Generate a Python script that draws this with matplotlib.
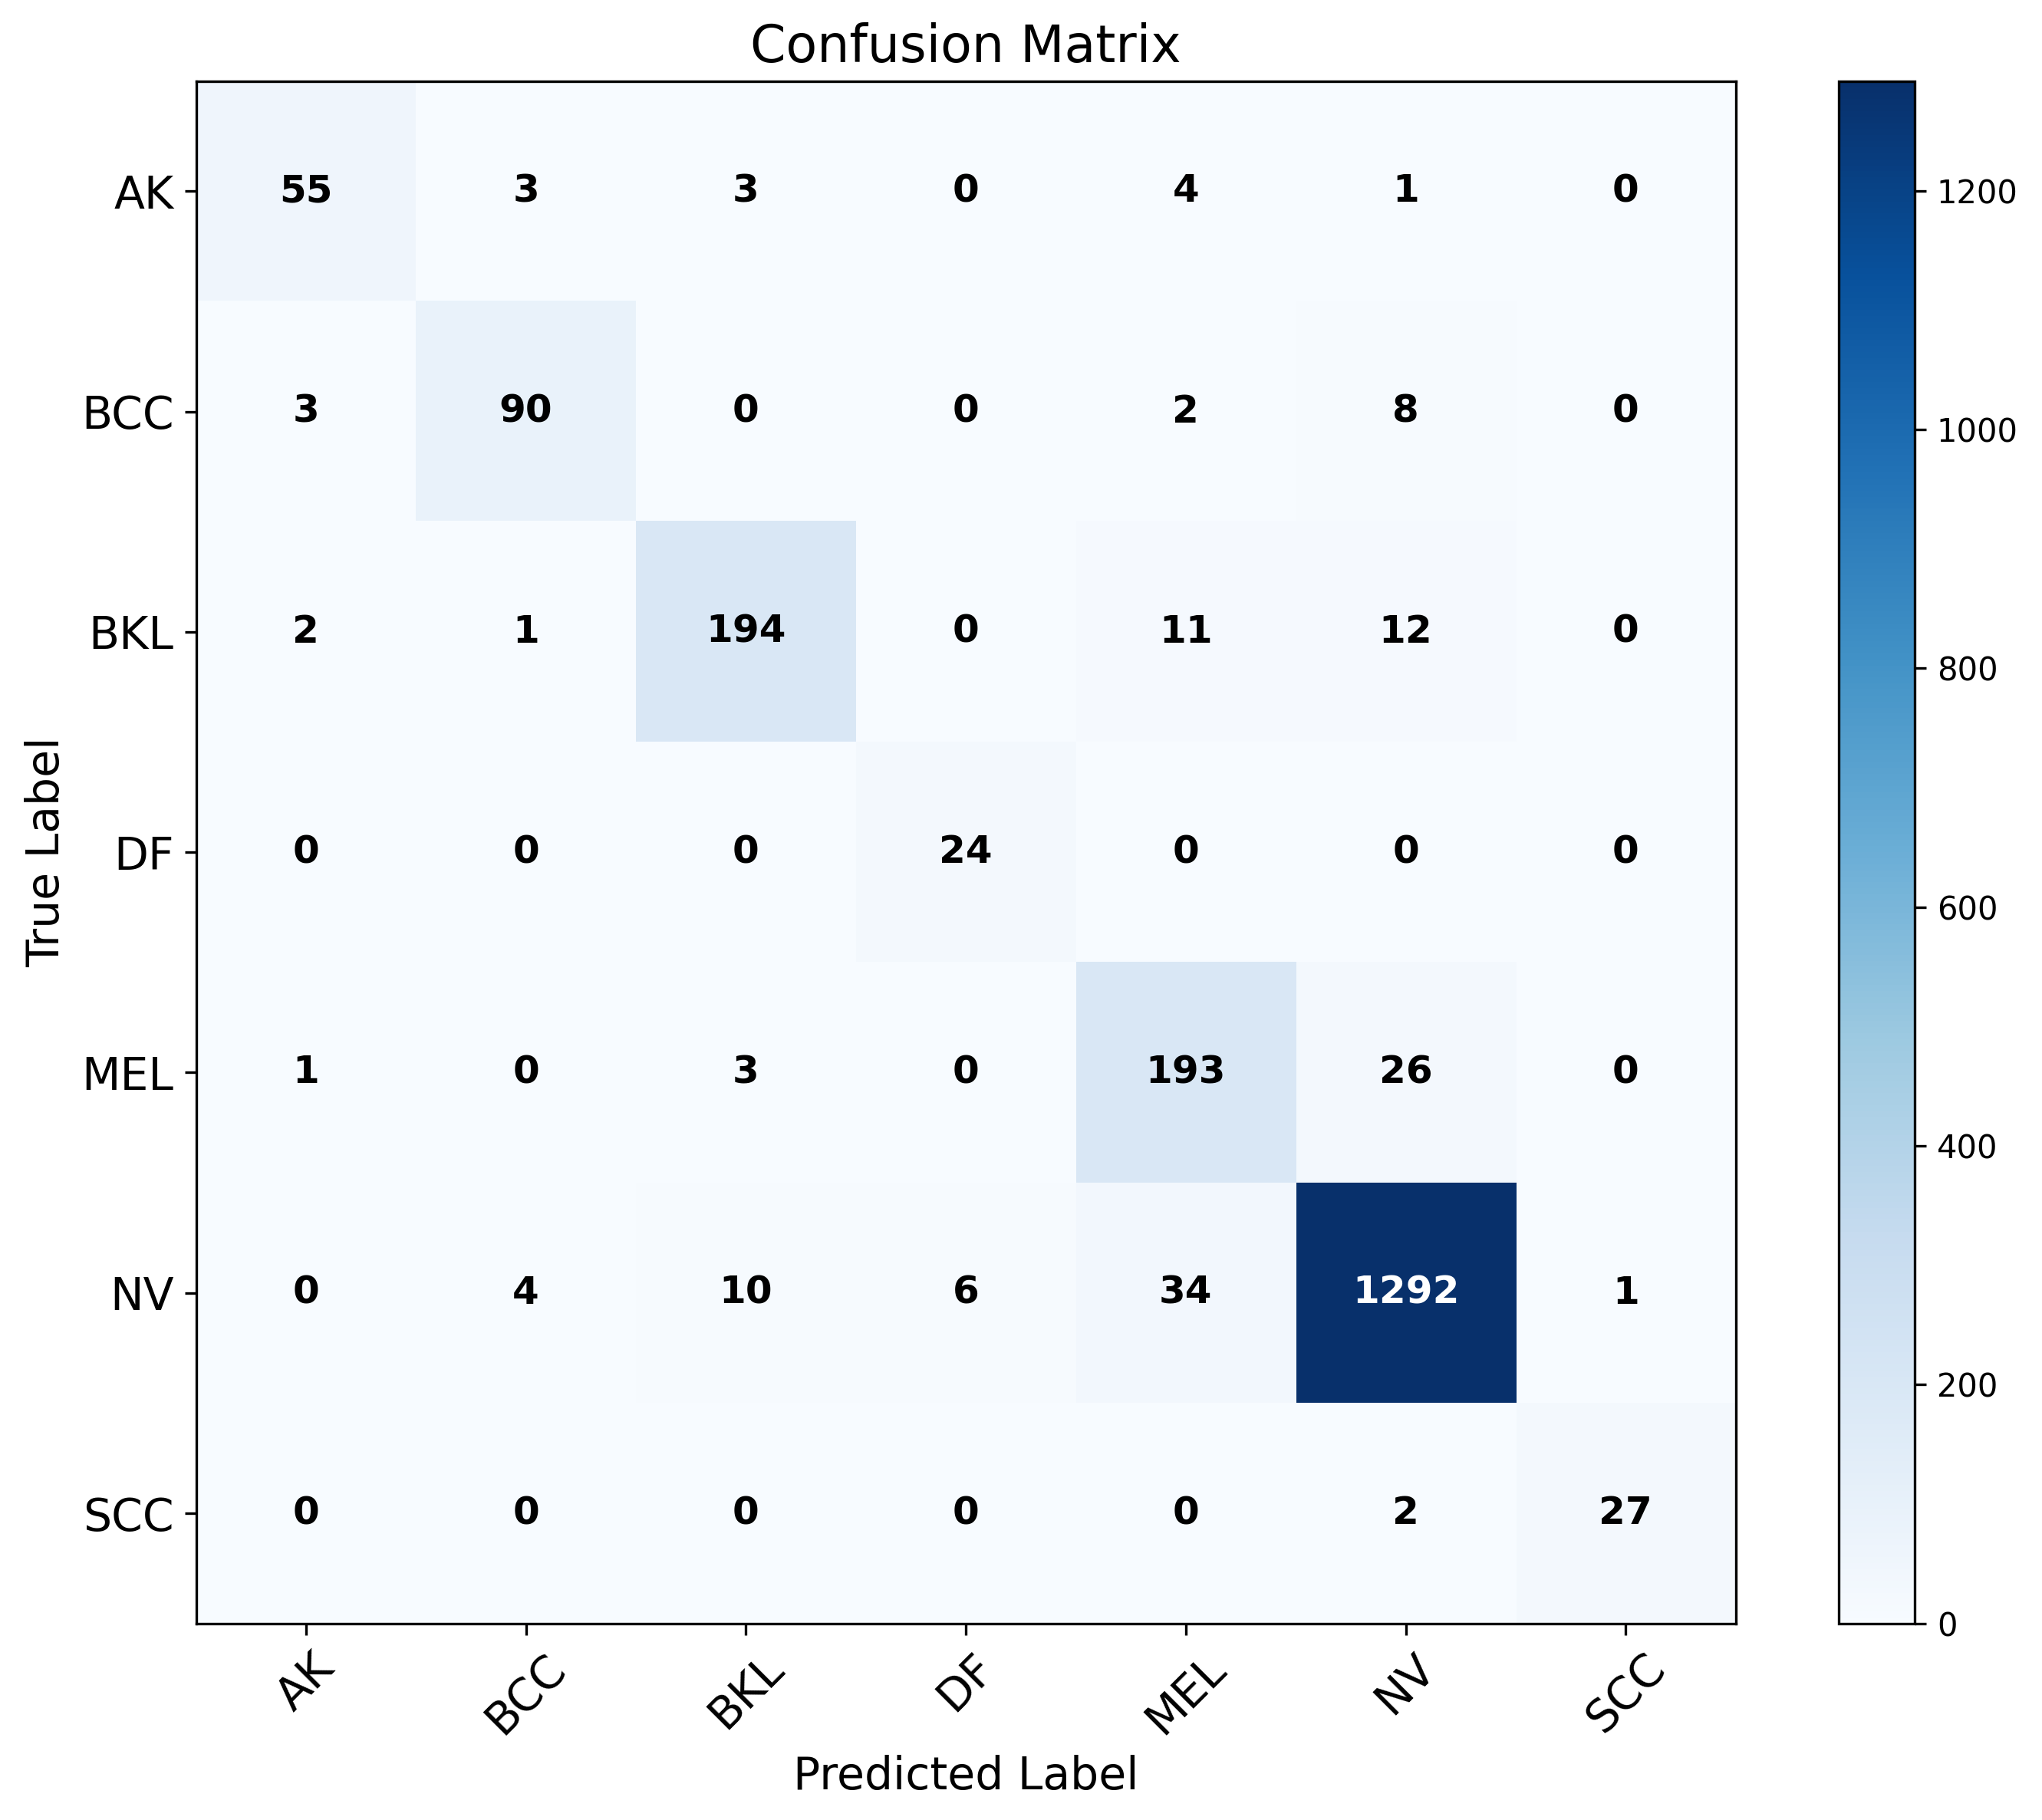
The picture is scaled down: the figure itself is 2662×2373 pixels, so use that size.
import numpy as np
import matplotlib.pyplot as plt

classes = ["AK", "BCC", "BKL", "DF", "MEL", "NV", "SCC"]
cm = np.array([
    [55, 3, 3, 0, 4, 1, 0],
    [3, 90, 0, 0, 2, 8, 0],
    [2, 1, 194, 0, 11, 12, 0],
    [0, 0, 0, 24, 0, 0, 0],
    [1, 0, 3, 0, 193, 26, 0],
    [0, 4, 10, 6, 34, 1292, 1],
    [0, 0, 0, 0, 0, 2, 27],
])

fig = plt.figure(figsize=(2662 / 300, 2373 / 300), dpi=300)
ax = fig.add_axes([0.096, 0.108, 0.754, 0.8475])
cax = fig.add_axes([0.9005, 0.108, 0.037, 0.8475])

im = ax.imshow(cm, interpolation="nearest", cmap="Blues", aspect="auto")
fig.colorbar(im, cax=cax)

ax.set_title("Confusion Matrix", fontsize=16)
ax.set_xticks(np.arange(len(classes)))
ax.set_yticks(np.arange(len(classes)))
ax.set_xticklabels(classes, rotation=45, fontsize=14)
ax.set_yticklabels(classes, fontsize=14)
ax.set_xlabel("Predicted Label", fontsize=14)
ax.set_ylabel("True Label", fontsize=14)

thresh = cm.max() / 2.0
for i in range(cm.shape[0]):
    for j in range(cm.shape[1]):
        ax.text(j, i, str(cm[i, j]), ha="center", va="center",
                fontsize=12, fontweight="bold",
                color="white" if cm[i, j] > thresh else "black")

fig.savefig("out.png", dpi=300)
